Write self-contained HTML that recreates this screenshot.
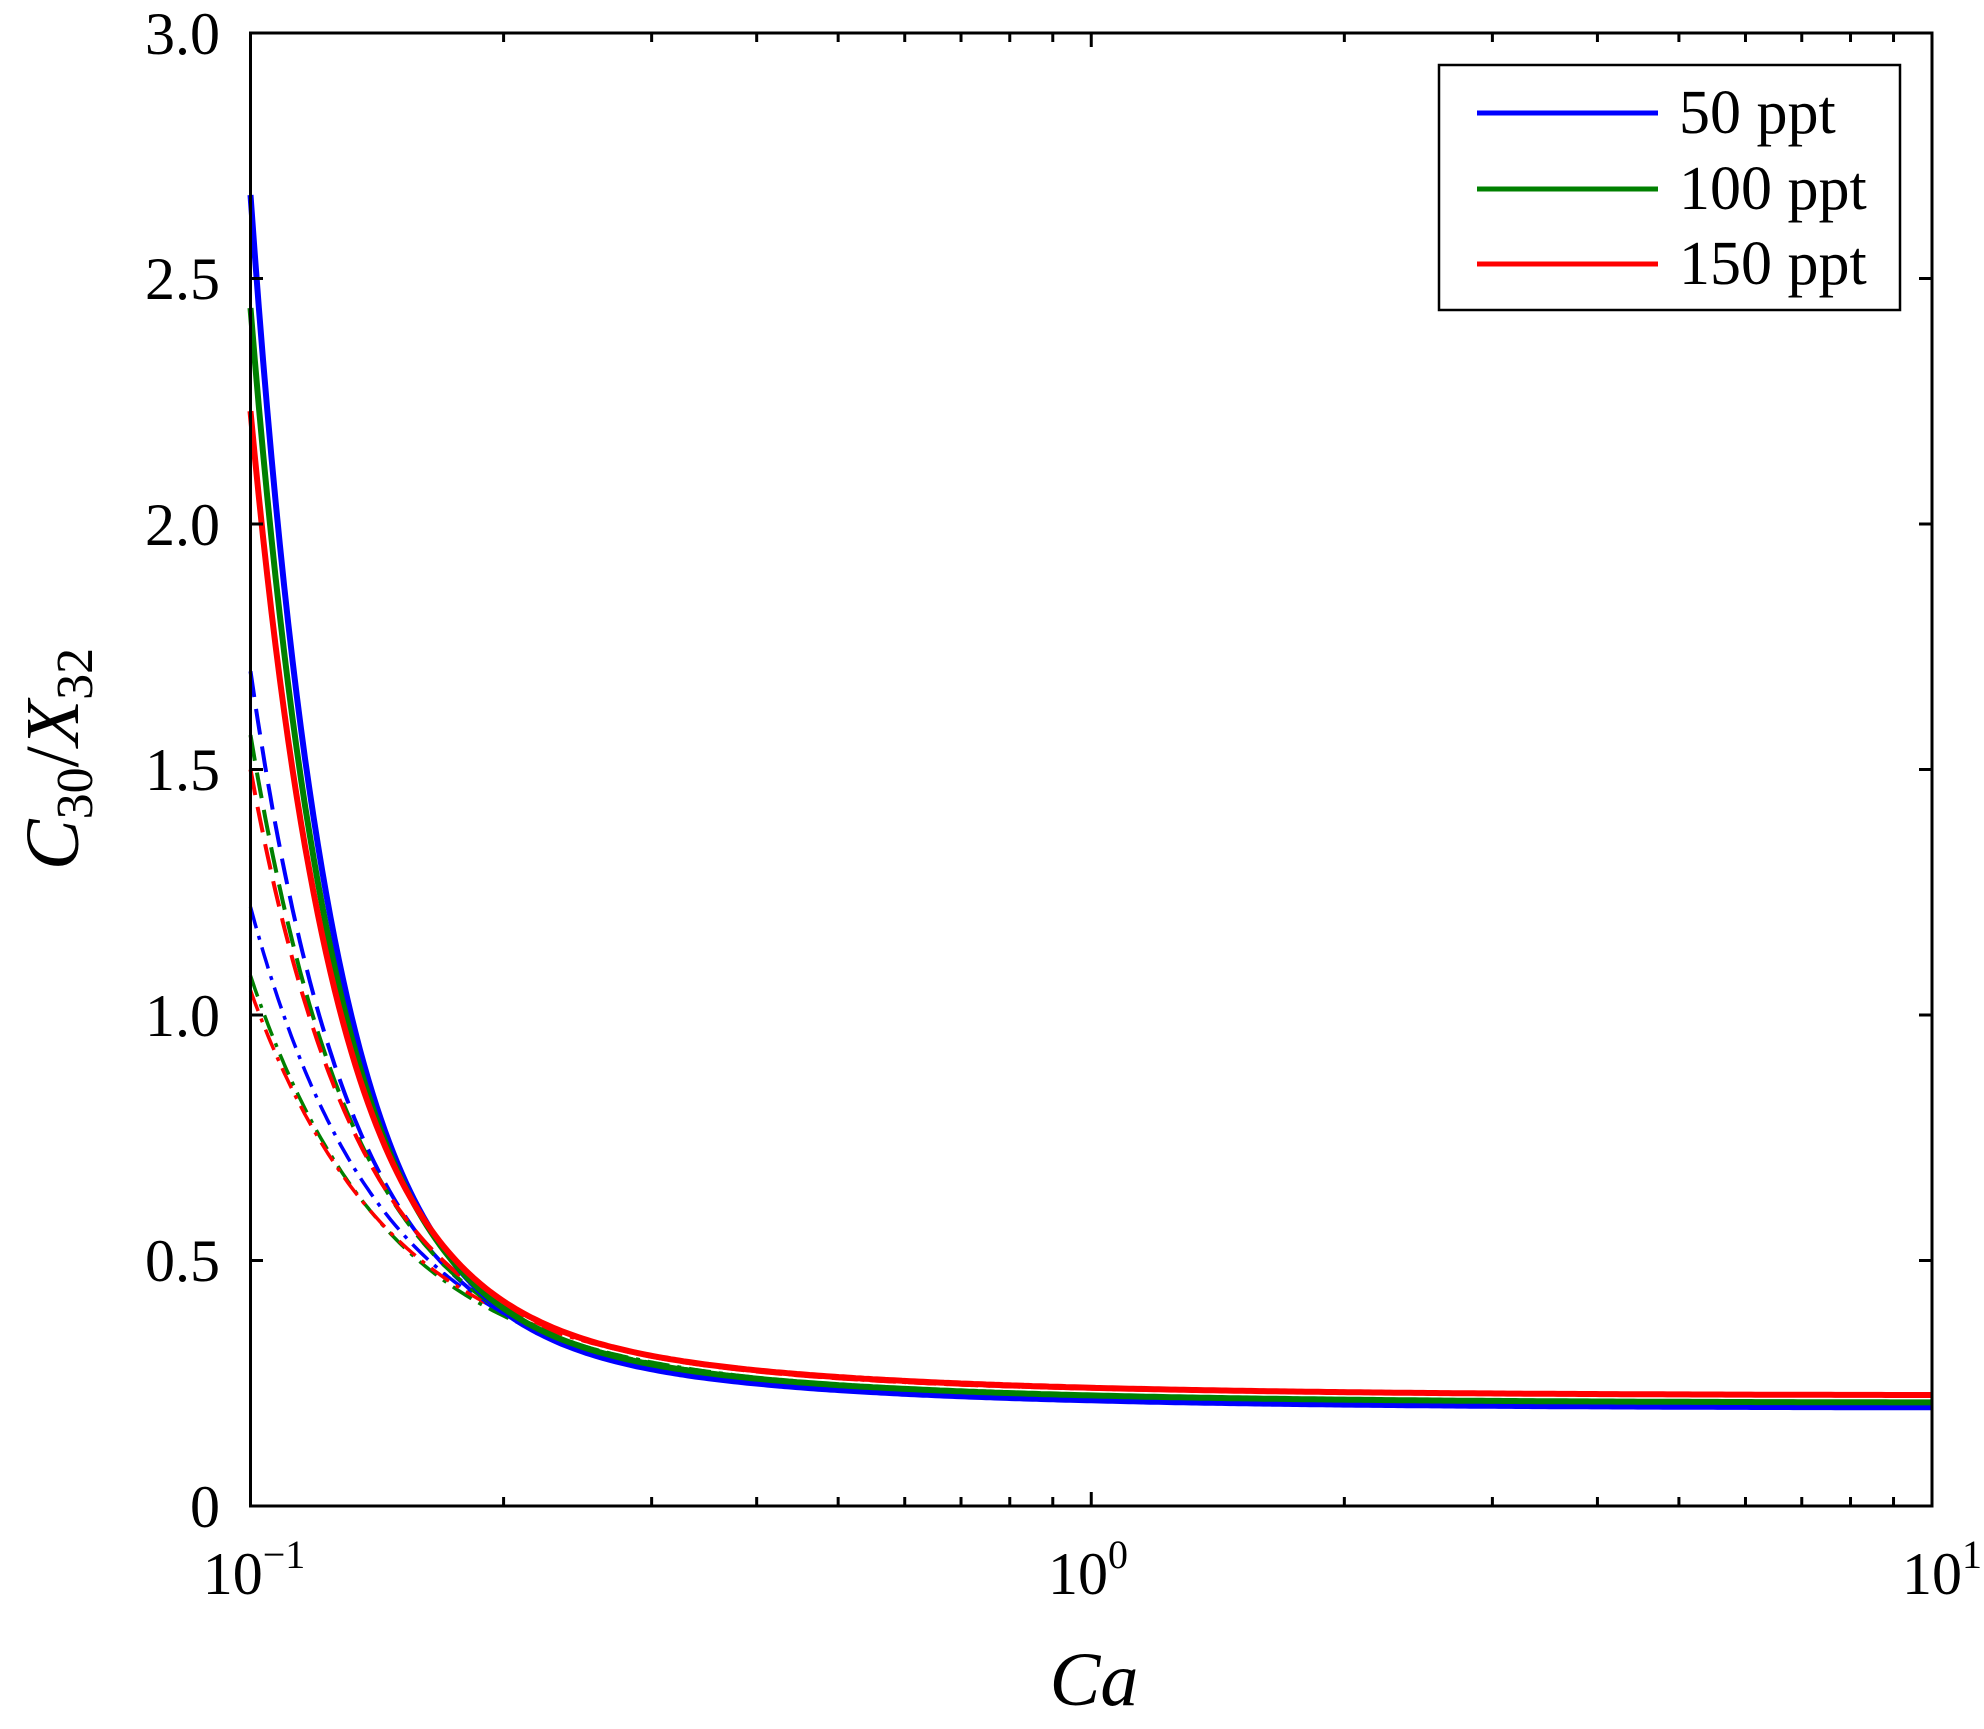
<!DOCTYPE html>
<html><head><meta charset="utf-8"><style>
html,body{margin:0;padding:0;background:#fff;}
svg{display:block;font-family:"Liberation Serif",serif;}
</style></head><body>
<svg id="s" width="1984" height="1729" viewBox="0 0 1984 1729" xmlns="http://www.w3.org/2000/svg">
<g id="curves" fill="none" stroke-linejoin="round"></g>
<rect x="250.5" y="33" width="1681.5" height="1473" fill="none" stroke="#000" stroke-width="3"/>
<g id="ticks" stroke="#000" stroke-width="3"></g>
<g font-size="60" fill="#000" text-anchor="end">
<text x="220" y="1527">0</text>
<text x="220" y="1281">0.5</text>
<text x="220" y="1036">1.0</text>
<text x="220" y="790">1.5</text>
<text x="220" y="545">2.0</text>
<text x="220" y="299">2.5</text>
<text x="220" y="54">3.0</text>
</g>
<g font-size="60" fill="#000">
<text x="254" y="1594" text-anchor="middle">10<tspan font-size="40" dy="-26">−1</tspan></text>
<text x="1088" y="1594" text-anchor="middle">10<tspan font-size="40" dy="-26">0</tspan></text>
<text x="1982" y="1594" text-anchor="end">10<tspan font-size="40" dy="-26">1</tspan></text>
<text x="1094" y="1705" font-size="76" font-style="italic" text-anchor="middle">Ca</text>
<text transform="translate(78,759) rotate(-90)" font-size="76" text-anchor="middle"><tspan font-style="italic">C</tspan><tspan font-size="52" dy="14">30</tspan><tspan dy="-14">/</tspan><tspan font-style="italic">X</tspan><tspan font-size="52" dy="14">32</tspan></text>
</g>
<rect x="1439" y="65" width="461" height="245" fill="#fff" stroke="#000" stroke-width="2.5"/>
<line x1="1477" y1="113" x2="1658" y2="113" stroke="#0000ff" stroke-width="5"/>
<line x1="1477" y1="189" x2="1658" y2="189" stroke="#008000" stroke-width="5"/>
<line x1="1477" y1="264" x2="1658" y2="264" stroke="#ff0000" stroke-width="5"/>
<g font-size="62" fill="#000">
<text x="1679" y="133">50 ppt</text>
<text x="1679" y="209">100 ppt</text>
<text x="1679" y="284">150 ppt</text>
</g>
</svg>
<script>
var X0=250.5,DEC=840.75,Y0=1506,YU=491;
function px(x){return X0+Math.log10(x/0.1)*DEC;}
function py(y){return Y0-y*YU;}
var g=document.getElementById('curves'),t=document.getElementById('ticks');
function curve(start,a,b2,p1,p2,col,w,dash,xmax){
 var b1=start-a-b2,d='';
 for(var i=0;i<=400;i++){var x=0.1*Math.pow(10,i/400*Math.log10(xmax/0.1));
  var r=0.1/x,y=a+b1*Math.pow(r,p1)+b2*Math.pow(r,p2);
  d+=(i?'L':'M')+px(x).toFixed(1)+' '+py(y).toFixed(1);}
 var p=document.createElementNS('http://www.w3.org/2000/svg','path');
 p.setAttribute('d',d);p.setAttribute('stroke',col);p.setAttribute('stroke-width',w);
 if(dash)p.setAttribute('stroke-dasharray',dash);g.appendChild(p);}
curve(1.22,0.2,0.25,3.2,1.2,'#0000ff',3.5,'22 8 4 8',1.2);
curve(1.08,0.21,0.22,3.0,1.2,'#008000',3.5,'22 8 4 8',1.2);
curve(1.05,0.225,0.2,2.9,1.2,'#ff0000',3.5,'22 8 4 8',1.2);
curve(1.70,0.2,0.25,3.9,1.2,'#0000ff',4,'26 12',1.5);
curve(1.57,0.21,0.23,3.7,1.2,'#008000',4,'26 12',1.5);
curve(1.50,0.225,0.22,3.6,1.2,'#ff0000',4,'26 12',1.5);
curve(2.67,0.2,0.24,4.6,1.2,'#0000ff',6,null,10);
curve(2.44,0.21,0.24,4.5,1.2,'#008000',6,null,10);
curve(2.23,0.225,0.25,4.4,1.2,'#ff0000',6,null,10);
function ln(x1,y1,x2,y2){var l=document.createElementNS('http://www.w3.org/2000/svg','line');
 l.setAttribute('x1',x1);l.setAttribute('y1',y1);l.setAttribute('x2',x2);l.setAttribute('y2',y2);t.appendChild(l);}
for(var k=1;k<6;k++){var y=py(k*0.5);ln(250.5,y,263,y);ln(1932,y,1919,y);}
for(var dcd=0;dcd<2;dcd++)for(var m=2;m<=10;m++){var x=px(0.1*Math.pow(10,dcd)*m);
 if(m==10&&dcd==1)continue;var L=(m==10)?14:9;ln(x,1506,x,1506-L);ln(x,33,x,33+L);}
</script>
</body></html>
